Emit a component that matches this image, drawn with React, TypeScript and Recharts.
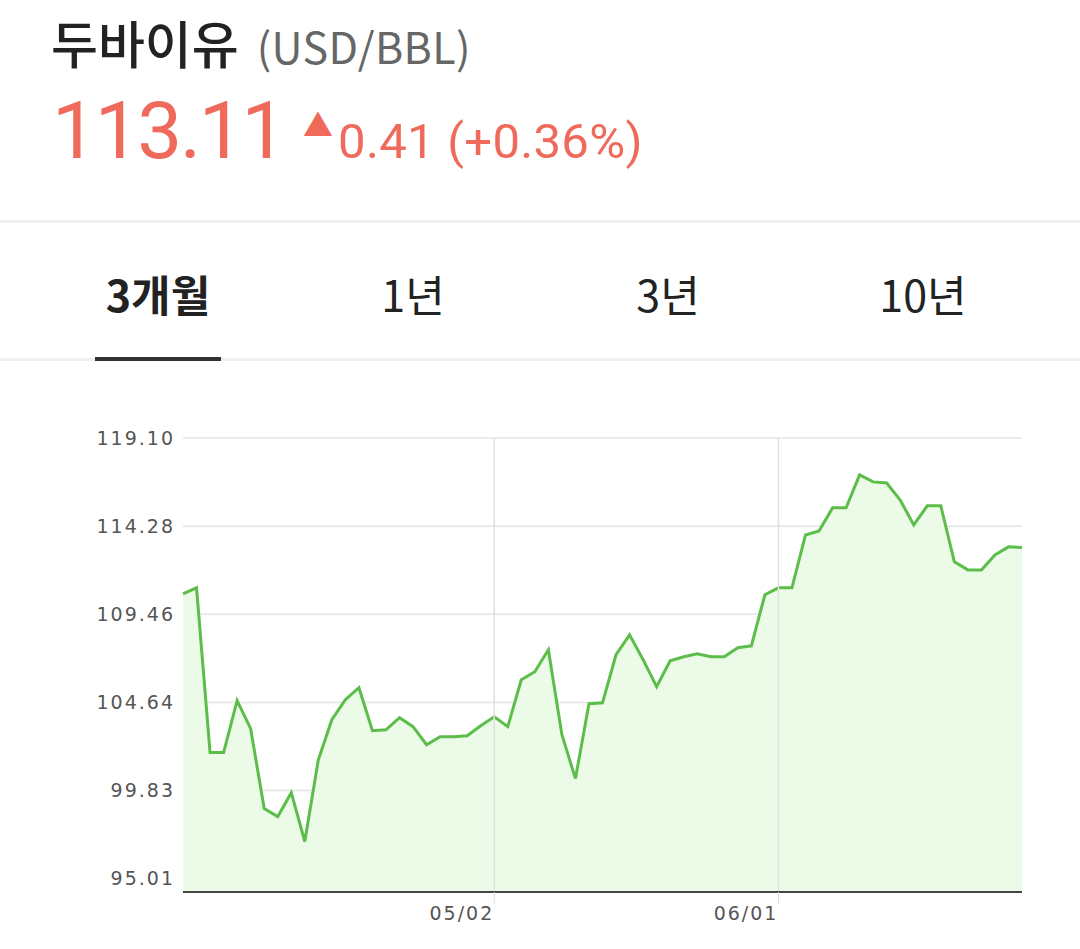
import { AreaChart, Area, XAxis, YAxis, CartesianGrid, ReferenceLine } from 'recharts';

// trading days, 03/29 .. 06/27
const dates = [
  '03/29', '03/30', '03/31', '04/01', '04/04', '04/05', '04/06', '04/07', '04/08',
  '04/11', '04/12', '04/13', '04/14', '04/18', '04/19', '04/20', '04/21', '04/22',
  '04/25', '04/26', '04/27', '04/28', '04/29', '05/02', '05/03', '05/04', '05/05',
  '05/06', '05/09', '05/10', '05/11', '05/12', '05/13', '05/16', '05/17', '05/18',
  '05/19', '05/20', '05/23', '05/24', '05/25', '05/26', '05/27', '05/31', '06/01',
  '06/02', '06/03', '06/06', '06/07', '06/08', '06/09', '06/10', '06/13', '06/14',
  '06/15', '06/16', '06/17', '06/20', '06/21', '06/22', '06/23', '06/24', '06/27',
];

const prices = [
  110.58, 110.91, 101.9, 101.9, 104.74, 103.21, 98.84, 98.4, 99.71,
  97.04, 101.51, 103.7, 104.79, 105.45, 103.1, 103.15, 103.81, 103.32,
  102.33, 102.77, 102.77, 102.82, 103.37, 103.86, 103.32, 105.88, 106.32,
  107.52, 102.88, 100.48, 104.57, 104.62, 107.25, 108.34, 106.98, 105.5,
  106.92, 107.14, 107.3, 107.14, 107.14, 107.63, 107.74, 110.53, 110.91,
  110.91, 113.8, 114.02, 115.28, 115.28, 117.08, 116.7, 116.64, 115.71,
  114.35, 115.39, 115.39, 112.33, 111.89, 111.89, 112.71, 113.15, 113.11,
];

const yTicks = [95.01, 99.83, 104.64, 109.46, 114.28, 119.1];
const xTicks = ['05/02', '06/01'];
const tabs = ['3개월', '1년', '3년', '10년'];

const data = dates.map((d, i) => ({ date: d, price: prices[i] }));

const KR = '"Noto Sans CJK KR", "Noto Sans", sans-serif';
const RED = '#ef6a5a';

const XTick = (props: any) => {
  const { x, y, payload } = props;
  return (
    <text x={x} y={y} dy={16} textAnchor="end" fill="#555" fontSize={19}
      fontFamily="DejaVu Sans, sans-serif" letterSpacing={2}>
      {payload.value}
    </text>
  );
};

export default function App() {
  return (
    <div style={{ position: 'absolute', left: 0, top: 0, width: 1080, height: 949, background: '#fff', fontFamily: KR, overflow: 'hidden' }}>
      <div style={{ position: 'absolute', left: 51, top: 17, whiteSpace: 'nowrap', lineHeight: 1, fontSize: 51 }}>
        <span style={{ fontWeight: 500, color: '#222' }}>두바이유</span>
        <span style={{ fontSize: 43, color: '#666', marginLeft: 18, letterSpacing: 0.4 }}>(USD/BBL)</span>
      </div>
      <div style={{ position: 'absolute', left: 52, top: 91, whiteSpace: 'nowrap', lineHeight: 1, fontSize: 80, color: RED, fontFamily: 'Roboto, sans-serif' }}>
        <span style={{ letterSpacing: -2.3 }}>113.11</span>
        <span style={{ fontSize: 30, marginLeft: 19, verticalAlign: 22, fontFamily: KR }}>▲</span>
        <span style={{ fontSize: 49, marginLeft: 5, letterSpacing: 0.3 }}>0.41 (+0.36%)</span>
      </div>
      <div style={{ position: 'absolute', left: 0, top: 220, width: 1080, height: 3, background: '#efefef' }} />
      {tabs.map((t, i) => (
        <div key={t} style={{
          position: 'absolute', top: 266, left: 30 + i * 255, width: 256, textAlign: 'center',
          fontSize: 43, lineHeight: 1.3, color: '#222', fontWeight: i === 0 ? 700 : 400,
        }}>{t}</div>
      ))}
      <div style={{ position: 'absolute', left: 0, top: 358, width: 1080, height: 3, background: '#efefef' }} />
      <div style={{ position: 'absolute', left: 95, top: 357, width: 126, height: 4, background: '#333' }} />

      <div style={{ position: 'absolute', left: 0, top: 400 }}>
        <AreaChart width={1080} height={549} data={data} margin={{ top: 38, right: 58, bottom: 17, left: 83 }}>
          <CartesianGrid stroke="#e4e4e4" strokeWidth={1.5} vertical={false} />
          <XAxis dataKey="date" ticks={xTicks} interval={0} height={40}
            axisLine={{ stroke: '#444', strokeWidth: 2 }}
            tickLine={{ stroke: '#ddd' }} tickSize={12} tickMargin={0}
            tick={<XTick />} />
          <YAxis domain={[94.28, 119.1]} ticks={yTicks} width={100}
            axisLine={false} tickLine={false} tickSize={0} tickMargin={8}
            tickFormatter={(v: number) => v.toFixed(2)}
            tick={{ fill: '#555', fontSize: 19, fontFamily: 'DejaVu Sans, sans-serif', letterSpacing: 2 }} />
          {xTicks.map(t => (
            <ReferenceLine key={t} x={t} stroke="#e0e0e0" strokeWidth={1.5} />
          ))}
          <Area type="linear" dataKey="price" stroke="#5cbd4b" strokeWidth={3}
            fill="#ecfbe7" fillOpacity={1} dot={false} activeDot={false} isAnimationActive={false} />
        </AreaChart>
      </div>
    </div>
  );
}
